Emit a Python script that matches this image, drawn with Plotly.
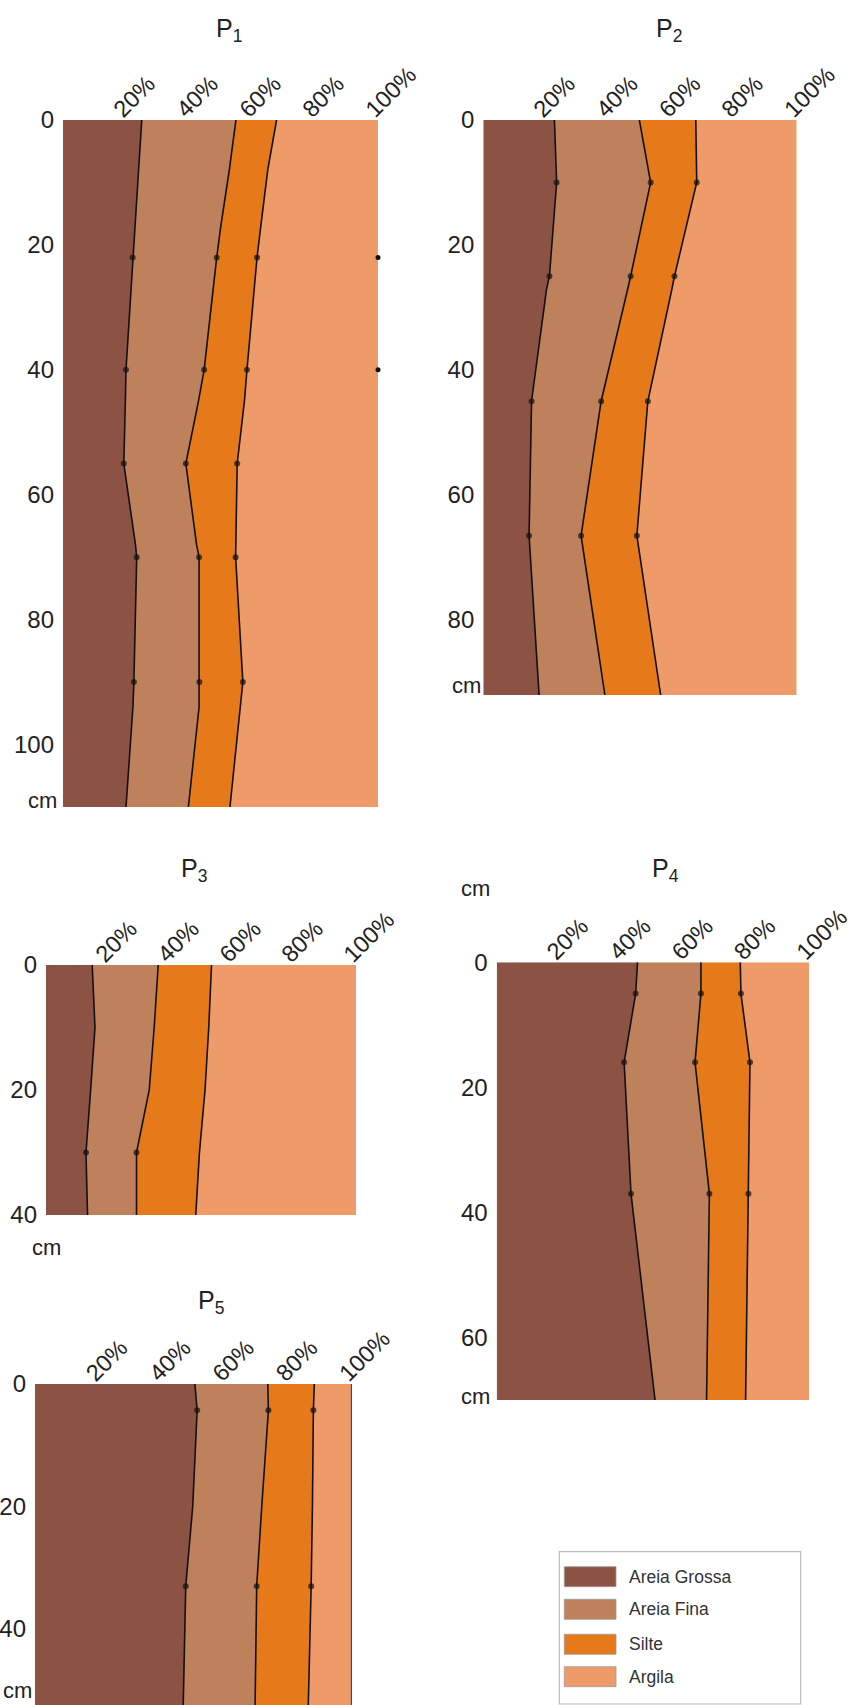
import numpy as np
import plotly.graph_objects as go

W, H = 851, 1705
FONT = "Liberation Sans, Arial, Helvetica, sans-serif"
TXT = "#222222"

# ---------------- data (percent of each fraction by depth, cm) ----------------
classes = ["Areia Grossa", "Areia Fina", "Silte", "Argila"]
colors = ["#8C5344", "#BE815C", "#E67A1B", "#EE9B69"]

titles = ["P<sub>1</sub>", "P<sub>2</sub>", "P<sub>3</sub>", "P<sub>4</sub>", "P<sub>5</sub>"]
xtick_vals = [20, 40, 60, 80, 100]
xtick_text = ["20%", "40%", "60%", "80%", "100%"]
unit_label = "cm"

# P1
p1_depth = [0, 8, 17, 22, 40, 45, 55, 68, 70, 90, 94, 110]
p1_grossa = [25.0, 24.0, 22.7, 22.1, 20.0, 19.8, 19.3, 23.0, 23.4, 22.5, 22.2, 20.0]
p1_fina = [29.9, 28.8, 27.4, 26.7, 24.8, 23.2, 19.7, 19.4, 19.8, 20.8, 21.0, 19.8]
p1_silte = [12.9, 12.2, 12.7, 12.8, 13.6, 14.6, 16.3, 12.5, 11.6, 13.8, 13.1, 13.2]
p1_argila = [32.2, 35.0, 37.2, 38.4, 41.6, 42.4, 44.7, 45.1, 45.2, 42.9, 43.7, 47.0]
p1_samples = [[22, 40, 55, 70, 90], [22, 40, 55, 70, 90], [22, 40, 55, 70, 90]]
p1_edge_samples = [22, 40]
p1_yticks = [0, 20, 40, 60, 80, 100]

# P2
p2_depth = [0, 10, 25, 27, 45, 66.5, 92]
p2_grossa = [22.7, 23.4, 21.1, 20.2, 15.4, 14.6, 17.8]
p2_fina = [27.1, 30.0, 25.9, 25.9, 22.2, 16.6, 21.0]
p2_silte = [18.0, 14.7, 14.0, 14.1, 14.9, 17.8, 17.8]
p2_argila = [32.2, 31.9, 39.0, 39.8, 47.5, 51.0, 43.4]
p2_samples = [[10, 25, 45, 66.5], [10, 25, 45, 66.5], [10, 25, 45, 66.5]]
p2_yticks = [0, 20, 40, 60, 80]

# P3
p3_depth = [0, 10, 20, 30, 40]
p3_grossa = [14.9, 15.8, 14.4, 12.9, 13.4]
p3_fina = [21.3, 19.1, 18.9, 16.3, 15.8]
p3_silte = [17.2, 17.6, 18.0, 20.3, 19.1]
p3_argila = [46.6, 47.5, 48.7, 50.5, 51.7]
p3_samples = [[30], [30], []]
p3_yticks = [0, 20, 40]

# P4
p4_depth = [0, 5, 16, 37, 70]
p4_grossa = [45.1, 44.5, 40.8, 43.0, 50.7]
p4_fina = [20.3, 20.9, 22.7, 25.1, 16.5]
p4_silte = [12.6, 12.8, 17.6, 12.5, 12.5]
p4_argila = [22.0, 21.8, 18.9, 19.4, 20.3]
p4_samples = [[5, 16, 37], [5, 16, 37], [5, 16, 37]]
p4_yticks = [0, 20, 40, 60]

# P5
p5_depth = [0, 4.3, 20, 33, 52.4]
p5_grossa = [50.5, 51.2, 49.8, 47.6, 46.8]
p5_fina = [23.0, 22.5, 21.8, 22.4, 22.7]
p5_silte = [14.7, 14.2, 16.0, 17.2, 16.8]
p5_argila = [11.8, 12.1, 12.4, 12.8, 13.7]
p5_samples = [[4.3, 33], [4.3, 33], [4.3, 33]]
p5_yticks = [0, 20, 40]

profiles = [
    dict(depth=p1_depth, vals=[p1_grossa, p1_fina, p1_silte, p1_argila], samples=p1_samples,
         yt=p1_yticks, edge_line=False,
         box=(63, 378, 120, 807), title_xy=(229, 30)),
    dict(depth=p2_depth, vals=[p2_grossa, p2_fina, p2_silte, p2_argila], samples=p2_samples,
         yt=p2_yticks, edge_line=False,
         box=(483.3, 796.7, 120, 695), title_xy=(669, 30)),
    dict(depth=p3_depth, vals=[p3_grossa, p3_fina, p3_silte, p3_argila], samples=p3_samples,
         yt=p3_yticks, edge_line=False,
         box=(46, 356, 965, 1215), title_xy=(194, 870)),
    dict(depth=p4_depth, vals=[p4_grossa, p4_fina, p4_silte, p4_argila], samples=p4_samples,
         yt=p4_yticks, edge_line=False,
         box=(496.7, 809, 962.3, 1400), title_xy=(665, 870)),
    dict(depth=p5_depth, vals=[p5_grossa, p5_fina, p5_silte, p5_argila], samples=p5_samples,
         yt=p5_yticks, edge_line=True,
         box=(35, 351.7, 1384, 1705), title_xy=(211, 1302)),
]

# positions (px) of the "cm" unit labels
unit_pos = [(42.5, 800), (466, 685), (46, 1247), (476, 889), (475, 1396), (17, 1690)]


def fx(v):
    return v / W


def fy(v):
    return 1 - v / H


fig = go.Figure()
layout = dict(
    width=W, height=H, margin=dict(l=0, r=0, t=0, b=0, pad=0, autoexpand=False),
    paper_bgcolor="white", plot_bgcolor="white", showlegend=False,
    font=dict(family=FONT, color=TXT),
)
annotations = []
shapes = []

for i, p in enumerate(profiles, start=1):
    xa, ya = f"x{i}", f"y{i}"
    depth = p["depth"]
    cum = np.cumsum(np.array(p["vals"], dtype=float), axis=0)
    for k in range(4):
        if k < 3:
            sizes = [6 if d in p["samples"][k] else 0 for d in depth]
            fig.add_trace(go.Scatter(
                x=cum[k], y=depth, xaxis=xa, yaxis=ya,
                mode="lines+markers",
                fill="tozerox" if k == 0 else "tonextx",
                fillcolor=colors[k],
                line=dict(color="#111111", width=1.6),
                marker=dict(size=sizes, color="#111111", line=dict(width=0)),
                hoverinfo="skip", showlegend=False, cliponaxis=False,
            ))
        else:
            fig.add_trace(go.Scatter(
                x=cum[k], y=depth, xaxis=xa, yaxis=ya,
                mode="lines", fill="tonextx", fillcolor=colors[k],
                line=dict(color="#111111", width=1.6 if p["edge_line"] else 0),
                hoverinfo="skip", showlegend=False, cliponaxis=False,
            ))
    if i == 1:
        fig.add_trace(go.Scatter(
            x=[100] * len(p1_edge_samples), y=p1_edge_samples, xaxis=xa, yaxis=ya,
            mode="markers", marker=dict(size=5, color="#111111"),
            hoverinfo="skip", showlegend=False, cliponaxis=False,
        ))

    x0, x1, y0, y1 = p["box"]
    sfx = "" if i == 1 else str(i)
    layout["xaxis" + sfx] = dict(
        domain=[fx(x0), fx(x1)], anchor=ya, side="top", range=[0, 100],
        tickmode="array", tickvals=xtick_vals, ticktext=xtick_text, tickangle=-45,
        showgrid=False, zeroline=False, showline=False, ticks="", automargin=False,
        ticklabeloverflow="allow", ticklabelshift=-11, ticklabelstandoff=-8,
        tickfont=dict(size=23.5, family=FONT, color=TXT),
    )
    layout["yaxis" + sfx] = dict(
        domain=[fy(y1), fy(y0)], anchor=xa, range=[depth[-1], 0],
        tickmode="array", tickvals=p["yt"], ticktext=[str(v) for v in p["yt"]],
        showgrid=False, zeroline=False, showline=False, ticks="", automargin=False,
        ticklabeloverflow="allow", ticklabelstandoff=8,
        tickfont=dict(size=24, family=FONT, color=TXT),
    )
    tx, ty = p["title_xy"]
    annotations.append(dict(
        x=fx(tx), y=fy(ty), xref="paper", yref="paper", text=titles[i - 1],
        showarrow=False, xanchor="center", yanchor="middle",
        font=dict(size=25, family=FONT, color=TXT),
    ))

# unit labels
for ux, uy in unit_pos:
    annotations.append(dict(x=fx(ux), y=fy(uy), xref="paper", yref="paper", text=unit_label,
                            showarrow=False, xanchor="center", yanchor="middle",
                            font=dict(size=22, family=FONT, color=TXT)))

# legend box drawn in paper space
shapes.append(dict(type="rect", xref="paper", yref="paper",
                   x0=fx(559.3), x1=fx(800.7), y0=fy(1704), y1=fy(1551.7),
                   line=dict(color="#BBBBBB", width=1.2), fillcolor="white", layer="above"))
row_y = [1576.7, 1609.3, 1644.3, 1676.7]
for k, name in enumerate(classes):
    cy = row_y[k]
    shapes.append(dict(type="rect", xref="paper", yref="paper",
                       x0=fx(564.3), x1=fx(616), y0=fy(cy + 10), y1=fy(cy - 10),
                       line=dict(color="#9A9A9A", width=0.8), fillcolor=colors[k], layer="above"))
    annotations.append(dict(x=fx(626.5), y=fy(cy), xref="paper", yref="paper", text=name,
                            showarrow=False, xanchor="left", yanchor="middle",
                            font=dict(size=17.5, family=FONT, color="#333333")))

layout["annotations"] = annotations
layout["shapes"] = shapes
fig.update_layout(**layout)
fig.write_html("out.html", config={"displayModeBar": False},
               post_script="document.body.style.margin='0px';")
